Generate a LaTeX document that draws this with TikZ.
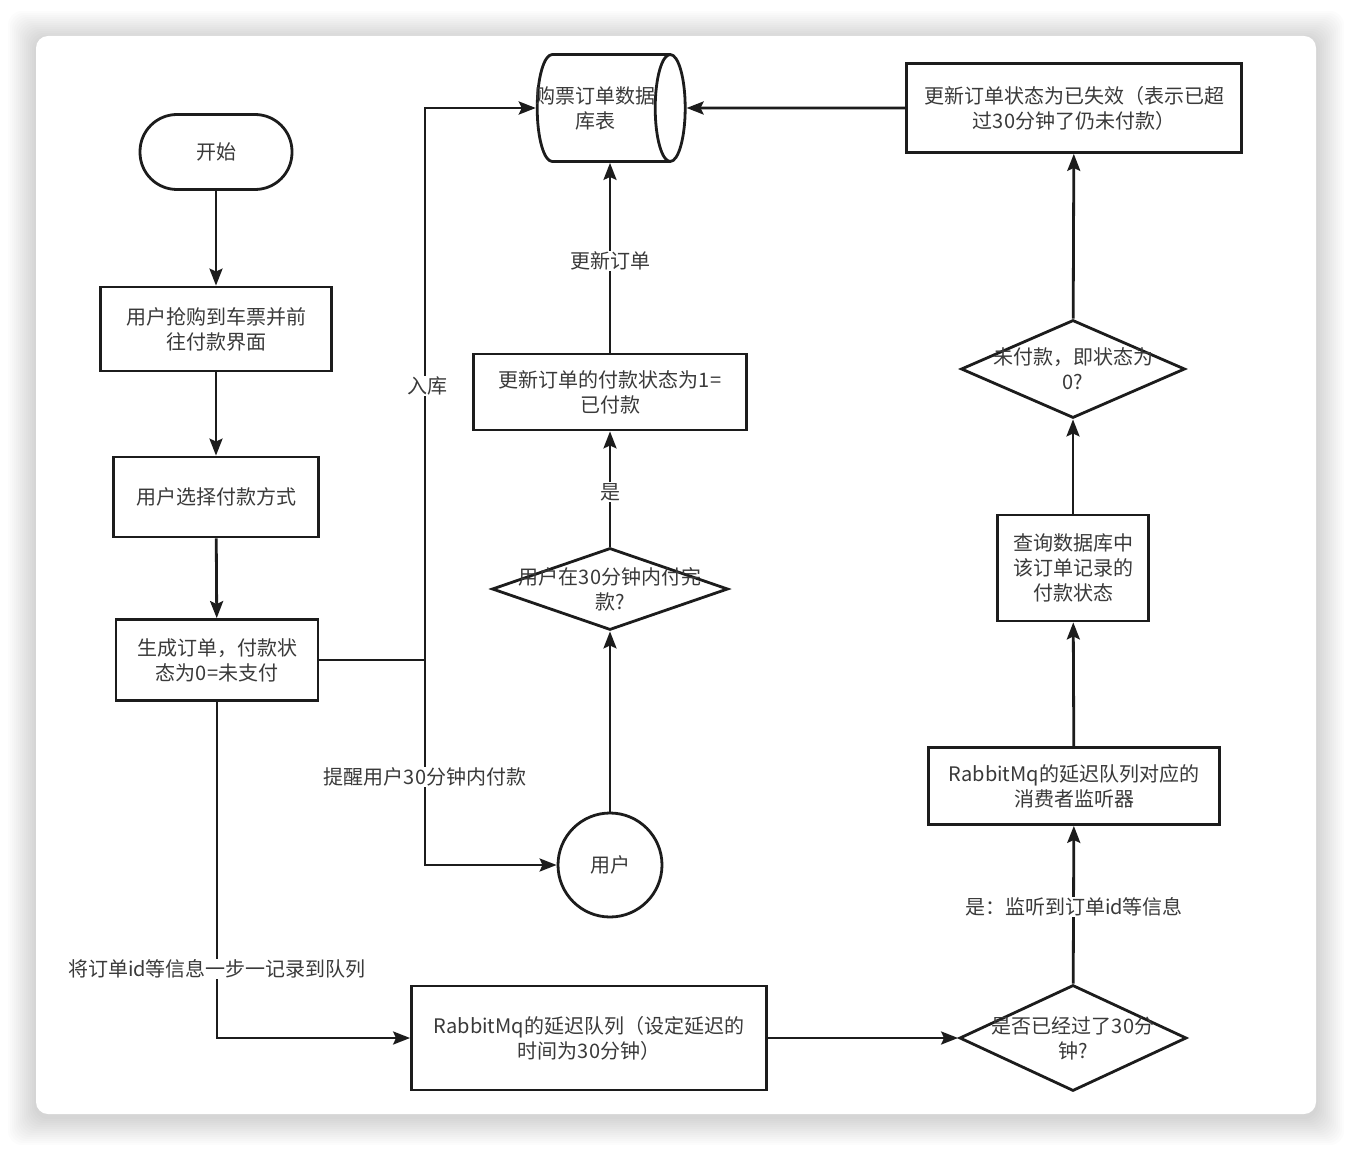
\documentclass[tikz,border=0pt]{standalone}
\usepackage{fontspec}
\setmainfont{Noto Sans CJK SC}
\usetikzlibrary{shapes.geometric,arrows.meta}
\definecolor{lineblack}{HTML}{1C1C1C}
\definecolor{txtgray}{HTML}{3A3A3A}
\tikzset{
  base/.style={draw=lineblack, line width=2.8pt, inner sep=0pt, align=center, text=txtgray, font=\fontsize{20}{25}\selectfont},
  box/.style={base, rectangle},
  startbox/.style={base, rectangle, rounded corners=37pt},
  choice/.style={base, diamond},
  dbtable/.style={base, cylinder, aspect=0.3},
  person/.style={base, circle},
  lbl/.style={fill=white, inner sep=1pt, text=txtgray, font=\fontsize{20}{25}\selectfont},
  inlbl/.style={lbl, fill=none, align=center},
  flow/.style={draw=lineblack, line width=2.8pt, -{Stealth[length=17pt,width=13pt,inset=3pt]}},
  wire/.style={draw=lineblack, line width=2.8pt}
}
\begin{document}
\begin{tikzpicture}[x=1pt, y=-1pt]
  \useasboundingbox (0,0) rectangle (1352,1150);
  \fill[white] (0,0) rectangle (1352,1150);
  \foreach \s in {1,...,14}
    \fill[black, opacity=0.012, rounded corners=14pt] (36-2*\s,36-2*\s+3) rectangle (1316+2*\s,1114+2*\s+3);
  \fill[white, rounded corners=12pt] (36,36) rectangle (1316,1114);

  \node[startbox, minimum width=152pt, minimum height=75pt] (start) at (216,152) {开始};
  \node[box, minimum width=231pt, minimum height=84pt] (grab) at (216,329) {用户抢购到车票并前\\往付款界面};
  \node[box, minimum width=205pt, minimum height=80pt] (paytype) at (216,497) {用户选择付款方式};
  \node[box, minimum width=202pt, minimum height=81pt] (order) at (217,660) {生成订单，付款状\\态为0=未支付};

  \node[dbtable, minimum width=107pt, minimum height=148pt, label={[inlbl, xshift=-8pt]center:购票订单数据\\库表}] (db) at (603,108) {\rule{0pt}{100pt}};
  \node[box, minimum width=273pt, minimum height=76pt] (paid) at (610,392) {更新订单的付款状态为1=\\已付款};
  \node[choice, minimum width=236pt, minimum height=82pt, label={[inlbl]center:用户在30分钟内付完\\款?}] (in30) at (610,589) {};
  \node[person, minimum size=104pt] (user) at (610,865) {用户};

  \node[box, minimum width=355pt, minimum height=104pt] (queue) at (589,1038) {RabbitMq的延迟队列（设定延迟的\\时间为30分钟）};
  \node[choice, minimum width=227pt, minimum height=106pt, label={[inlbl]center:是否已经过了30分\\钟?}] (timeout) at (1073,1038) {};
  \node[box, minimum width=291pt, minimum height=77pt] (consumer) at (1074,786) {RabbitMq的延迟队列对应的\\消费者监听器};
  \node[box, minimum width=151pt, minimum height=106pt] (query) at (1073,568) {查询数据库中\\该订单记录的\\付款状态};
  \node[choice, minimum width=224pt, minimum height=98pt, label={[inlbl]center:未付款，即状态为\\0?}] (unpaid) at (1073,369) {};
  \node[box, minimum width=335pt, minimum height=89pt] (expire) at (1074,108) {更新订单状态为已失效（表示已超\\过30分钟了仍未付款）};

  \coordinate (split) at (425,660);
  \draw[flow] (start) -- (grab);
  \draw[flow] (grab) -- (paytype);
  \draw[flow] (paytype) -- (order);
  \draw[wire] (order.east) -- (split);
  \draw[flow] (split) |- (db.west);
  \draw[flow] (split) |- (user.west);
  \draw[flow] (user) -- (in30);
  \draw[flow] (in30) -- (paid);
  \draw[flow] (paid) -- (paid |- db.south);
  \draw[flow] (order.south) |- (queue.west);
  \draw[flow] (queue) -- (timeout);
  \draw[flow] (timeout) -- (consumer);
  \draw[flow] (consumer) -- (query);
  \draw[flow] (query) -- (unpaid);
  \draw[flow] (unpaid) -- (expire);
  \draw[flow] (expire.west) -- (db.east);

  \node[lbl] (instore) at (427,386) {入库};
  \node[lbl] (remind) at (425,777) {提醒用户30分钟内付款};
  \node[lbl] (record) at (217,969) {将订单id等信息一步一记录到队列};
  \node[lbl] (yes) at (610,492) {是};
  \node[lbl] (update) at (610,261) {更新订单};
  \node[lbl] (listen) at (1074,907) {是：监听到订单id等信息};
\end{tikzpicture}
\end{document}
